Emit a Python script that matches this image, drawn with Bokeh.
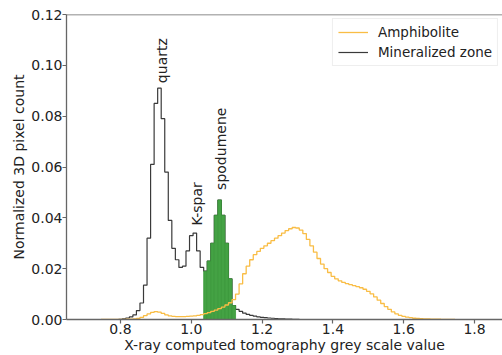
import numpy as np
from bokeh.plotting import figure
from bokeh.models import Legend, LegendItem, Label, Span, FixedTicker
from bokeh.embed import file_html
from bokeh.resources import INLINE

# ---------------- data ----------------
bin_width = 0.01

# Mineralized zone histogram, bin centres start at 0.75, step 0.01
mineral_first_center = 0.75
mineral_values = [
    0.0, 0.0, 0.0, 0.0, 0.0, 0.0001,                    # 0.75-0.80
    0.0003, 0.0006, 0.0010, 0.0018, 0.0035, 0.0065,     # 0.81-0.86
    0.0135, 0.0320, 0.0610, 0.0850, 0.0910, 0.0790,     # 0.87-0.92
    0.0580, 0.0390, 0.0280, 0.0235, 0.0205, 0.0210,     # 0.93-0.98
    0.0270, 0.0330, 0.0340, 0.0270, 0.0205, 0.0190,     # 0.99-1.04
    0.0230, 0.0300, 0.0410, 0.0470, 0.0410, 0.0300,     # 1.05-1.10
    0.0160, 0.0055, 0.0040, 0.0032, 0.0025, 0.0020,     # 1.11-1.16
    0.0016, 0.0013, 0.0010, 0.0008, 0.0007, 0.0006,     # 1.17-1.22
    0.0005, 0.0004, 0.0003, 0.0003, 0.0002, 0.0002,     # 1.23-1.28
    0.0001, 0.0001, 0.0, 0.0,                           # 1.29-1.32
]

# Amphibolite histogram, bin centres start at 0.75, step 0.01
amph_first_center = 0.75
amph_values = [
    0.0, 0.0, 0.0, 0.0, 0.0, 0.0, 0.0, 0.0001, 0.0001, 0.0002,   # 0.75-0.84
    0.0004, 0.0008, 0.0015, 0.0022, 0.0028, 0.0031, 0.0029,      # 0.85-0.91
    0.0024, 0.0018, 0.0014, 0.0012, 0.0011, 0.0011, 0.0011,      # 0.92-0.98
    0.0012, 0.0013, 0.0014, 0.0016, 0.0019, 0.0023, 0.0027,      # 0.99-1.05
    0.0032, 0.0037, 0.0043, 0.0049, 0.0057, 0.0066, 0.0078,      # 1.06-1.12
    0.0100, 0.0140, 0.0180, 0.0210, 0.0235, 0.0255, 0.0268,      # 1.13-1.19
    0.0280, 0.0290, 0.0300, 0.0310, 0.0320, 0.0330, 0.0340,      # 1.20-1.26
    0.0350, 0.0357, 0.0362, 0.0360, 0.0352, 0.0338, 0.0315,      # 1.27-1.33
    0.0290, 0.0265, 0.0240, 0.0218, 0.0200, 0.0185, 0.0170,      # 1.34-1.40
    0.0160, 0.0152, 0.0146, 0.0141, 0.0137, 0.0133, 0.0129,      # 1.41-1.47
    0.0125, 0.0119, 0.0111, 0.0101, 0.0089, 0.0076, 0.0063,      # 1.48-1.54
    0.0051, 0.0040, 0.0030, 0.0022, 0.0016, 0.0012, 0.0009,      # 1.55-1.61
    0.0007, 0.0005, 0.0004, 0.0003, 0.0002, 0.0002, 0.0001,      # 1.62-1.68
    0.0001, 0.0001, 0.0, 0.0, 0.0, 0.0,                          # 1.69-1.74
]

# spodumene window (filled in green)
spodumene_window = (1.035, 1.125)

series_names = ["Amphibolite", "Mineralized zone"]

annotation_texts = ["quartz", "K-spar", "spodumene"]
annotation_x = [0.917, 1.015, 1.083]
annotation_y = [0.093, 0.037, 0.051]

x_ticks = [0.8, 1.0, 1.2, 1.4, 1.6, 1.8]
y_ticks = [0.0, 0.02, 0.04, 0.06, 0.08, 0.10, 0.12]
x_title = "X-ray computed tomography grey scale value"
y_title = "Normalized 3D pixel count"
x_limits = (0.6475, 1.879)
y_limits = (0.0, 0.12)

# ---------------- helpers ----------------
def step_path(first_center, vals, w):
    centers = first_center + w * np.arange(len(vals))
    xs, ys = [centers[0] - w / 2], [0.0]
    for c, v in zip(centers, vals):
        xs += [c - w / 2, c + w / 2]
        ys += [v, v]
    xs.append(centers[-1] + w / 2)
    ys.append(0.0)
    return xs, ys

FONT = "DejaVu Sans"
TXT = "#222222"
SPINE = "#666666"

p = figure(width=502, height=355, output_backend="svg", toolbar_location=None,
           x_range=x_limits, y_range=y_limits,
           min_border_left=66, min_border_right=0, min_border_top=14,
           min_border_bottom=35)
p.outline_line_color = None
p.grid.visible = False
p.background_fill_color = "white"
p.border_fill_color = "white"

# mineralized zone step line
mx, my = step_path(mineral_first_center, mineral_values, bin_width)
r_min = p.line(mx, my, line_color="#3a3a3a", line_width=1.2)

# spodumene green fill from the mineralized histogram
centers = mineral_first_center + bin_width * np.arange(len(mineral_values))
lefts, rights, tops = [], [], []
for c, v in zip(centers, mineral_values):
    if c > spodumene_window[0] and c < spodumene_window[1]:
        lefts.append(c - bin_width / 2)
        rights.append(c + bin_width / 2)
        tops.append(v)
p.quad(left=lefts, right=rights, top=tops, bottom=0, fill_color="#44a244",
       fill_alpha=1.0, line_color="#3a983a", line_width=0.8)

# amphibolite step line
ax_, ay_ = step_path(amph_first_center, amph_values, bin_width)
r_amph = p.line(ax_, ay_, line_color="#f9bd45", line_width=1.3)

# top spine
p.add_layout(Span(location=y_limits[1], dimension="width", line_color=SPINE, line_width=1.3))

# axes
for ax in (p.xaxis[0], p.yaxis[0]):
    ax.axis_line_color = SPINE
    ax.axis_line_width = 1.3
    ax.major_tick_line_color = SPINE
    ax.major_tick_line_width = 1.2
    ax.major_tick_out = 4
    ax.major_tick_in = 0
    ax.minor_tick_line_color = None
    ax.major_label_text_font = FONT
    ax.major_label_text_font_size = "14px"
    ax.major_label_text_color = TXT
    ax.major_label_standoff = 0
    ax.axis_label_text_font = FONT
    ax.axis_label_text_font_size = "14px"
    ax.axis_label_text_font_style = "normal"
    ax.axis_label_text_color = TXT

p.xaxis[0].ticker = FixedTicker(ticks=x_ticks)
p.xaxis[0].major_label_overrides = {t: f"{t:.1f}" for t in x_ticks}
p.yaxis[0].ticker = FixedTicker(ticks=y_ticks)
p.yaxis[0].major_label_overrides = {t: f"{t:.2f}" for t in y_ticks}

p.yaxis[0].axis_label = y_title
p.yaxis[0].axis_label_standoff = 1
p.xaxis[0].axis_label = x_title
p.xaxis[0].axis_label_standoff = 0

# rotated mineral annotations
for t, x, y in zip(annotation_texts, annotation_x, annotation_y):
    p.add_layout(Label(x=x, y=y, text=t, angle=np.pi / 2, text_font=FONT,
                       text_font_size="14px", text_color=TXT,
                       text_align="left", text_baseline="middle"))

legend = Legend(items=[LegendItem(label=series_names[0], renderers=[r_amph]),
                       LegendItem(label=series_names[1], renderers=[r_min])],
                location="top_right", margin=4, padding=5, spacing=4,
                glyph_width=30, glyph_height=16, label_standoff=10, label_height=16,
                label_text_font=FONT, label_text_font_size="13.5px", label_text_color=TXT,
                border_line_color="#dddddd", border_line_width=1,
                background_fill_alpha=0.8)
p.add_layout(legend)

open("out.html", "w").write(file_html(p, INLINE))
